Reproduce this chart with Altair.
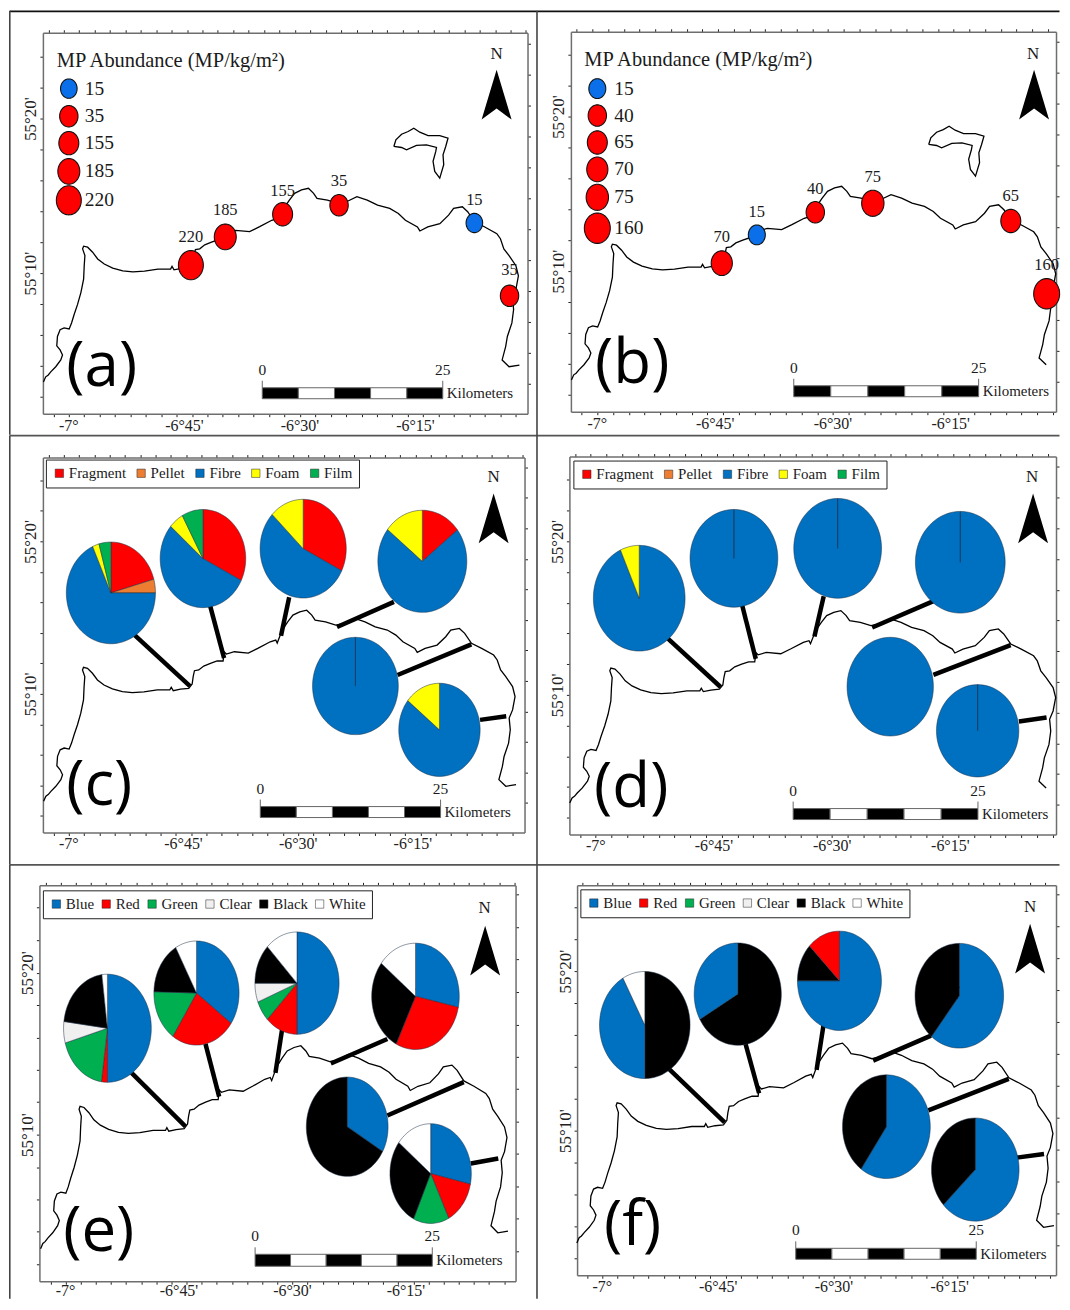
import math
import altair as alt
import pandas as pd

# ---------- coastline (degrees) ----------
COAST_LON = [-7.0550,-7.0500,-7.0450,-7.0391,-7.0283,-7.0174,-7.0137,-7.0189,-7.0261,-7.0246,-7.0189,-7.0102,-6.9993,-6.9941,-6.9885,-6.9811,-6.9739,-6.9680,-6.9667,-6.9652,-6.9702,-6.9680,-6.9593,-6.9485,-6.9376,-6.9233,-6.9050,-6.8833,-6.8615,-6.8363,-6.8072,-6.7798,-6.7767,-6.7724,-6.7565,-6.7385,-6.7311,-6.7289,-6.7261,-6.7167,-6.7059,-6.6913,-6.6767,-6.6637,-6.6609,-6.6565,-6.6391,-6.6087,-6.5870,-6.5609,-6.5489,-6.5457,-6.5348,-6.5228,-6.5115,-6.4965,-6.4815,-6.4704,-6.4630,-6.4404,-6.4180,-6.3991,-6.3767,-6.3543,-6.3320,-6.3057,-6.2870,-6.2717,-6.2457,-6.2404,-6.2233,-6.1972,-6.1783,-6.1674,-6.1485,-6.1370,-6.1222,-6.1000,-6.0739,-6.0661,-6.0587,-6.0474,-6.0326,-6.0272,-6.0326,-6.0400,-6.0376,-6.0413,-6.0511,-6.0548,-6.0624,-6.0474,-6.0250,-6.0065]
COAST_LAT = [55.0493,55.0548,55.0566,55.0602,55.0657,55.0730,55.0784,55.0838,55.0882,55.0984,55.1056,55.1075,55.1064,55.1129,55.1220,55.1329,55.1456,55.1601,55.1746,55.1855,55.1928,55.1957,55.1946,55.1892,55.1819,55.1764,55.1721,55.1691,55.1680,55.1688,55.1710,55.1710,55.1739,55.1702,55.1718,55.1728,55.1775,55.1855,55.1920,55.1928,55.1971,55.2001,55.2026,55.2026,55.2124,55.2102,55.2127,55.2113,55.2167,55.2236,55.2255,55.2222,55.2364,55.2454,55.2527,55.2563,55.2581,55.2527,55.2472,55.2454,55.2418,55.2436,55.2491,55.2454,55.2399,55.2364,55.2309,55.2236,55.2164,55.2121,55.2164,55.2200,55.2291,55.2364,55.2382,55.2328,55.2219,55.2164,55.2091,55.2037,55.1928,55.1855,55.1746,55.1637,55.1492,55.1402,55.1274,55.1129,55.0983,55.0874,55.0730,55.0657,55.0675,55.0711]
ISLAND_LON = [-6.2967,-6.2923,-6.2800,-6.2658,-6.2535,-6.2406,-6.2227,-6.1974,-6.1795,-6.1845,-6.1903,-6.1888,-6.1974,-6.2082,-6.2119,-6.2060,-6.2045,-6.2261,-6.2477,-6.2693,-6.2800,-6.2967]
ISLAND_LAT = [55.3032,55.3104,55.3164,55.3193,55.3229,55.3186,55.3150,55.3150,55.3121,55.3032,55.2943,55.2835,55.2691,55.2763,55.2871,55.2978,55.3021,55.3050,55.3043,55.2996,55.3021,55.3032]

# ---------- sampling sites ----------
SITE_LON = [-6.7359,-6.6615,-6.5374,-6.4153,-6.1225,-6.0464]
SITE_LAT = [55.1752,55.2057,55.2301,55.2398,55.2207,55.1422]
ABUND_A = [220,185,155,35,15,35]
ABUND_B = [70,15,40,75,65,160]
LEGEND_A = [15,35,155,185,220]
LEGEND_B = [15,40,65,70,75,160]

# ---------- pies ----------
MP_TYPES = ["Fragment","Pellet","Fibre","Foam","Film"]
MP_COLOURS = ["#ff0000","#ed7d31","#0070c0","#ffff00","#00b050"]
MP_NAMES = ["Blue","Red","Green","Clear","Black","White"]
MP_NAME_COLOURS = ["#0070c0","#ff0000","#00b050","#f0f0f0","#000000","#ffffff"]

SHARE_C = [[20.7,4.3,68.3,2.4,4.3],[32.4,0,54,5.6,8],[32.4,0,54.8,12.8,0],[14.5,0,71.2,14.3,0],[0,0,100,0,0],[0,0,85.8,14.2,0]]
SHARE_D = [[0,0,93.3,6.7,0],[0,0,100,0,0],[0,0,100,0,0],[0,0,100,0,0],[0,0,100,0,0],[0,0,100,0,0]]
SHARE_E = [[50,2.2,18.4,6.4,21,2],[34.9,24.5,16,0,16.5,8.1],[50,12.5,6.5,6,12.6,12.4],[28.3,29,0,0,28.4,14.3],[33.3,0,0,0,66.7,0],[28.4,14.3,14.2,0,28.8,14.3]]
CATS_F = [["Black","Blue","White"],["Black","Blue"],["Blue","Black","Red"],["Blue","Black"],["Blue","Black"],["Blue","Black"]]
SHARE_F = [[50,42,8],[66.8,33.2],[75,12.4,12.6],[60.8,39.2],[59.8,40.2],[63,37]]

PIE_LON_C = [-6.9083,-6.7076,-6.4891,-6.2293,-6.3752,-6.1920]
PIE_LAT_C = [55.2770,55.3145,55.3253,55.3115,55.1753,55.1274]
PIE_LON_D = [-6.9080,-6.7077,-6.4883,-6.2289,-6.3771,-6.1922]
PIE_LAT_D = [55.2716,55.3149,55.3257,55.3106,55.1756,55.1277]
PIE_LON_E = [-6.9077,-6.7114,-6.4899,-6.2288,-6.3793,-6.1954]
PIE_LAT_E = [55.2761,55.3123,55.3225,55.3089,55.1748,55.1266]
PIE_LON_F = [-6.9083,-6.7076,-6.4881,-6.2293,-6.3867,-6.1948]
PIE_LAT_F = [55.2770,55.3093,55.3232,55.3076,55.1708,55.1260]

LEAD_LON_C = [-6.8565,-6.6935,-6.5196,-6.2913,-6.2833,-6.1035]
LEAD_LAT_C = [55.2309,55.2658,55.2723,55.2672,55.1873,55.1383]
LEAD_LON_D = [-6.8553,-6.6908,-6.5178,-6.2858,-6.2858,-6.1050]
LEAD_LAT_D = [55.2316,55.2651,55.2738,55.2684,55.1883,55.1377]
LEAD_LON_E = [-6.8545,-6.6916,-6.5215,-6.2908,-6.2908,-6.1070]
LEAD_LAT_E = [55.2302,55.2600,55.2787,55.2651,55.1864,55.1369]
LEAD_LON_F = [-6.8562,-6.6908,-6.5221,-6.2904,-6.2962,-6.1053]
LEAD_LAT_F = [55.2312,55.2573,55.2781,55.2659,55.1878,55.1385]

XLABELS = ["-7°","-6°45'","-6°30'","-6°15'"]
XLABEL_LON = [-7.0,-6.75,-6.5,-6.25]
SCALE_KM = [0,5,10,15,20,25]

# ---------- layout ----------
W, H = 527, 431
SERIF = "Liberation Serif"
ELL = 1.17
ARROW = "M0,-1L0.6,1L0,0.56L-0.6,1Z"

def ellipse_path(ratio=ELL, n=72):
    pts = []
    for i in range(n):
        t = 2*math.pi*i/n
        pts.append(f"{math.sin(t):.3f},{-ratio*math.cos(t):.3f}")
    return "M" + "L".join(pts) + "Z"

def wedge_path(a0, a1, ratio, radial=True):
    if a1 - a0 >= 99.99 and not radial:
        return ellipse_path(ratio)
    t0, t1 = a0/100*2*math.pi, a1/100*2*math.pi
    n = max(2, int((t1-t0)/math.radians(4))+1)
    pts = ["0,0"]
    for i in range(n+1):
        t = t0+(t1-t0)*i/n
        pts.append(f"{math.sin(t):.3f},{-ratio*math.cos(t):.3f}")
    return "M" + "L".join(pts) + "Z"

ONE = pd.DataFrame({"k":[0]})

PANELS = {
 "a": dict(col=0,row=0,L=42,R=528,T=31,B=413,x7=68,x6=415.6,y20=117,y10=272,xlab=425,ylab=0,
           letter="(a)",lc=(101,366),arrow=(497,93),n=(497,52),bar=(262,443,387,398),leg=None),
 "b": dict(col=1,row=0,L=571.5,R=1058,T=30,B=411,x7=598,x6=952.4,y20=115,y10=270,xlab=423,ylab=0,
           letter="(b)",lc=(633,363),arrow=(1036,93),n=(1035,52),bar=(795,980.4,385,396),leg=None),
 "c": dict(col=0,row=1,L=42,R=525,T=457,B=833,x7=68,x6=413,y20=541,y10=694,xlab=845,ylab=0,
           letter="(c)",lc=(98.5,786),arrow=(494,518),n=(494,477),bar=(260,440.8,807,818),leg=(45,459,15,7)),
 "d": dict(col=1,row=1,L=570,R=1058,T=456,B=835,x7=596.4,x6=952,y20=541,y10=695,xlab=847,ylab=0,
           letter="(d)",lc=(632,788),arrow=(1035,518),n=(1034,477),bar=(794.4,979.7,809,820),leg=(574,460,15,7)),
 "e": dict(col=0,row=2,L=38.5,R=516,T=886,B=1283,x7=64.7,x6=406,y20=973.5,y10=1136,xlab=1293,ylab=0,
           letter="(e)",lc=(98,1234),arrow=(485.5,951.5),n=(485,909),bar=(254.8,432.5,1256,1268),leg=(42,891,15,4)),
 "f": dict(col=1,row=2,L=577.7,R=1058,T=886,B=1277,x7=603,x6=951.4,y20=972,y10=1132,xlab=1289,ylab=0,
           letter="(f)",lc=(633.5,1228),arrow=(1032,949.5),n=(1032,908),bar=(797,978,1250,1261),leg=(581,890,15,4)),
}

def build(name, extra):
    p = PANELS[name]
    ox, oy = 8 + p["col"]*W, 8 + p["row"]*H
    kx = (p["x6"]-p["x7"])/0.75
    ky = (p["y10"]-p["y20"])/(10/60)
    lon_at = lambda px: -7 + (px-p["x7"])/kx
    lat_at = lambda py: 55+20/60 - (py-p["y20"])/ky
    xs = alt.Scale(domain=[lon_at(p["L"]), lon_at(p["R"])], range=[p["L"]-ox, p["R"]-ox], nice=False, zero=False)
    ys = alt.Scale(domain=[lat_at(p["B"]), lat_at(p["T"])], range=[p["B"]-oy, p["T"]-oy], nice=False, zero=False)
    X = lambda f: alt.X(f"{f}:Q", scale=xs, axis=None, title=None)
    Y = lambda f: alt.Y(f"{f}:Q", scale=ys, axis=None, title=None)

    lon_ticks = [-7 + k*2/60 for k in range(-3, 38)]
    lat_ticks = [55+20/60 + k*2/60 for k in range(-16, 8)]
    xb = [v for v in lon_ticks if lon_at(p["L"]) < v < lon_at(p["R"])]
    xt = [v-5/kx for v in lon_ticks if lon_at(p["L"]) < v-5/kx < lon_at(p["R"])]
    yl = [v for v in lat_ticks if lat_at(p["B"]) < v < lat_at(p["T"])]
    yr = [v+13/ky for v in lat_ticks if lat_at(p["B"]) < v+13/ky < lat_at(p["T"])]
    dom = dict(domainColor="#6e6e6e", domainWidth=1.5, tickColor="#222222", tickWidth=1, tickSize=3, grid=False, title=None)
    expr = ("abs(datum.value-55.33333)<0.002 ? \"55°20'\" : "
            "abs(datum.value-55.16667)<0.002 ? \"55°10'\" : ''")

    layers = []
    coast = pd.DataFrame({"lon":COAST_LON,"lat":COAST_LAT,"i":range(len(COAST_LON))})
    coast = coast[coast.lon <= lon_at(p["R"])]
    layers.append(alt.Chart(coast).mark_line(color="black", strokeWidth=1.3).encode(
        x=alt.X("lon:Q", scale=xs, title=None, axis=alt.Axis(orient="bottom", values=xb, labels=False,
                offset=(p["B"]-oy)-H, **dom)),
        y=alt.Y("lat:Q", scale=ys, title=None, axis=alt.Axis(orient="left", values=yl, labelExpr=expr,
                labelOverlap=False, labelAngle=270, labelFont=SERIF, labelFontSize=17, labelColor="#222222",
                labelPadding=p["ylab"], offset=-(p["L"]-ox), **dom)),
        order="i:Q"))
    layers.append(alt.Chart(ONE.assign(lon=-6.5, lat=55.2)).mark_point(opacity=0).encode(
        x=alt.X("lon:Q", scale=xs, title=None, axis=alt.Axis(orient="top", values=xt, labels=False,
                offset=-(p["T"]-oy), **dom)),
        y=alt.Y("lat:Q", scale=ys, title=None, axis=alt.Axis(orient="right", values=yr, labels=False,
                offset=(p["R"]-ox)-W, **dom))))
    island = pd.DataFrame({"lon":ISLAND_LON,"lat":ISLAND_LAT,"i":range(len(ISLAND_LON))})
    layers.append(alt.Chart(island).mark_line(color="black", strokeWidth=1.3).encode(x=X("lon"), y=Y("lat"), order="i:Q"))

    def txt(px, py, s, size=15.5, font=SERIF, align="center", color="#1a1a1a", **kw):
        return alt.Chart(ONE).mark_text(font=font, fontSize=size, align=align, baseline="middle", color=color, **kw).encode(
            x=alt.value(px-ox), y=alt.value(py-oy), text=alt.value(s))
    def rule(x0, y0, x1, y1, color="#444444", w=1.6):
        return alt.Chart(ONE).mark_rule(color=color, strokeWidth=w).encode(
            x=alt.value(x0-ox), x2=alt.value(x1-ox), y=alt.value(y0-oy), y2=alt.value(y1-oy))

    xl = pd.DataFrame({"lon":XLABEL_LON,"t":XLABELS})
    layers.append(alt.Chart(xl).mark_text(font=SERIF, fontSize=16, color="#222222", baseline="middle").encode(
        x=X("lon"), y=alt.value(p["xlab"]-oy), text="t:N"))

    layers += extra(p, ox, oy, X, Y, txt, rule)

    # scale bar
    x0, x1, y0, y1 = p["bar"]
    km = pd.DataFrame({"a":[lon_at(x0+(x1-x0)*v/25) for v in SCALE_KM[:-1]],
                       "b":[lon_at(x0+(x1-x0)*v/25) for v in SCALE_KM[1:]],
                       "f":[0,1,0,1,0]})
    for flag, col in ((0,"black"),(1,"white")):
        layers.append(alt.Chart(km[km.f==flag]).mark_rect(color=col, stroke="#666666", strokeWidth=1).encode(
            x=X("a"), x2="b:Q", y=alt.value(y0-oy), y2=alt.value(y1-oy)))
    layers += [rule(x0,y0-7,x0,y0,"#666666",1), rule(x1,y0-7,x1,y0,"#666666",1),
               txt(x0, y0-18, "0", 15.5), txt(x1, y0-18, "25", 15.5),
               txt(x1+4, (y0+y1)/2, "Kilometers", 15, align="left")]

    # north arrow, letter
    layers.append(alt.Chart(ONE).mark_point(shape=ARROW, size=2500, filled=True, color="black", opacity=1).encode(
        x=alt.value(p["arrow"][0]-ox), y=alt.value(p["arrow"][1]-oy)))
    layers.append(txt(p["n"][0], p["n"][1], "N", 17))
    layers.append(txt(p["lc"][0], p["lc"][1], p["letter"], 62, font="Open Sans", color="black"))

    # divider lines of the plate
    if name == "a":
        layers += [rule(8.8,9.5,1061.5,9.5,"#111111",1.6), rule(8.8,9,8.8,434), rule(8.8,435,1061.5,435,"#555555",1.8), rule(537.5,9,537.5,435)]
    if name == "c":
        layers += [rule(8.8,435,8.8,865), rule(8.8,865.5,1061.5,865.5,"#555555",1.8), rule(537.5,435,537.5,865)]
    if name == "e":
        layers += [rule(8.8,865,8.8,1300.5)]
    if name == "f":
        layers += [rule(537.5,865,537.5,1300.5)]

    return alt.layer(*layers).resolve_axis(x="independent", y="independent").properties(width=W, height=H)


def sites(values, legend_vals, radii, rows, sym_x, lab_x, lift, title_x, title_y, lab_size):
    def f(p, ox, oy, X, Y, txt, rule):
        ky = (p["y10"]-p["y20"])/(10/60)
        size = alt.Size("v:Q", legend=None, scale=alt.Scale(
            domain=legend_vals, range=[(2*r)**2 for r in radii], zero=False, nice=False))
        colr = alt.Color("c:N", legend=None, scale=alt.Scale(domain=["low","high"], range=["#0a6fe8","#ff0000"]))
        base = dict(shape=ellipse_path(), filled=True, opacity=1, stroke="#111111", strokeWidth=1.1)
        df = pd.DataFrame({"lon":SITE_LON,"lat":SITE_LAT,"v":values})
        df["c"] = ["low" if v == 15 else "high" for v in values]
        df["tl"] = [la + d/ky for la, d in zip(SITE_LAT, lift)]
        out = []
        out.append(alt.Chart(df).mark_point(**base).encode(x=X("lon"), y=Y("lat"), size=size, color=colr))
        out.append(alt.Chart(df).mark_text(font=SERIF, fontSize=16.5, color="#1a1a1a", baseline="middle").encode(
            x=X("lon"), y=Y("tl"), text="v:N"))
        out.append(txt(title_x, title_y, "MP Abundance (MP/kg/m²)", 20.5, align="left"))
        for v, py in zip(legend_vals, rows):
            d = pd.DataFrame({"v":[v],"c":["low" if v == 15 else "high"]})
            out.append(alt.Chart(d).mark_point(**base).encode(
                x=alt.value(sym_x-ox), y=alt.value(py-oy), size=size, color=colr))
            out.append(txt(lab_x, py, str(v), lab_size, align="left"))
        return out
    return f


def pies(names, colours, lons, lats, lead_lon, lead_lat, rx, ry, shares, cats=None, radial=None):
    def f(p, ox, oy, X, Y, txt, rule):
        out = []
        for i in range(6):
            d = pd.DataFrame({"lon":[lead_lon[i],SITE_LON[i]],"lat":[lead_lat[i],SITE_LAT[i]],"i":[0,1]})
            out.append(alt.Chart(d).mark_line(color="black", strokeWidth=4.5).encode(x=X("lon"), y=Y("lat"), order="i:Q"))
        rows = []
        for i in range(6):
            cc = cats[i] if cats else names
            a = 0
            for c, s in zip(cc, shares[i]):
                if s <= 0:
                    continue
                rad = radial[i] if radial else True
                rows.append(dict(lon=lons[i], lat=lats[i], cat=c, size=(2*rx[i])**2,
                                 path=wedge_path(a, a+s, ry[i]/rx[i], rad), n=len(rows)))
                a += s
        df = pd.DataFrame(rows)
        lx, ly, fs, cp = p["leg"]
        legend = alt.Legend(orient="none", legendX=lx-ox, legendY=ly-oy, direction="horizontal", columns=len(names),
                            title=None, symbolType="square", symbolSize=70, symbolStrokeColor="#222222",
                            symbolStrokeWidth=0.5, labelFont=SERIF, labelFontSize=fs, labelColor="#1a1a1a",
                            strokeColor="#222222", fillColor="white", padding=6, columnPadding=cp, labelOffset=2)
        out.append(alt.Chart(df).mark_point(filled=True, opacity=1, stroke="#1c2f45", strokeWidth=0.5).encode(
            x=X("lon"), y=Y("lat"),
            shape=alt.Shape("path:N", scale=None),
            size=alt.Size("size:Q", scale=None),
            color=alt.Color("cat:N", legend=legend, scale=alt.Scale(domain=names, range=colours)),
            order="n:Q"))
        return out
    return f


a = build("a", sites(ABUND_A, LEGEND_A, [8.3,9.2,10,11,12.5], [87,114.7,141.7,170,199], 68, 84,
                     [28,27.4,23.7,24.7,23.4,25.4], 56, 59, 19.5))
b = build("b", sites(ABUND_B, LEGEND_B, [8.5,9.2,10,10.6,11.2,13], [87,114,141,168,196,227], 598, 615,
                     [26.6,23,23,26,25,28.7], 585, 58, 19.5))
c = build("c", pies(MP_TYPES, MP_COLOURS, PIE_LON_C, PIE_LAT_C, LEAD_LON_C, LEAD_LAT_C,
                    [44.7,42.9,43.2,44.6,43,40.8], [51,49.2,49.5,51.2,48.8,46.7], SHARE_C))
d = build("d", pies(MP_TYPES, MP_COLOURS, PIE_LON_D, PIE_LAT_D, LEAD_LON_D, LEAD_LAT_D,
                    [46,44,44,45,43.3,41.3], [53,49,50,51,49.5,46.3], SHARE_D,
                    radial=[True,True,True,True,False,True]))
e = build("e", pies(MP_NAMES, MP_NAME_COLOURS, PIE_LON_E, PIE_LAT_E, LEAD_LON_E, LEAD_LAT_E,
                    [44,42.7,42.2,43.9,41,40.8], [54.2,52.2,51.3,53.3,49.8,50], SHARE_E))
f = build("f", pies(MP_NAMES, MP_NAME_COLOURS, PIE_LON_F, PIE_LAT_F, LEAD_LON_F, LEAD_LAT_F,
                    [45.4,43.7,42.1,44.4,44,43.9], [53.7,51.3,49.8,52.5,52,51.7], SHARE_F, cats=CATS_F))

chart = (alt.concat(a, b, c, d, e, f, columns=2, spacing=0, bounds="flush")
         .resolve_scale(color="independent", size="independent", shape="independent")
         .configure_view(stroke=None)
         .properties(padding={"left":0,"top":0,"right":0,"bottom":0}))
chart.save("out.html", embed_options={"renderer": "svg", "actions": False})
